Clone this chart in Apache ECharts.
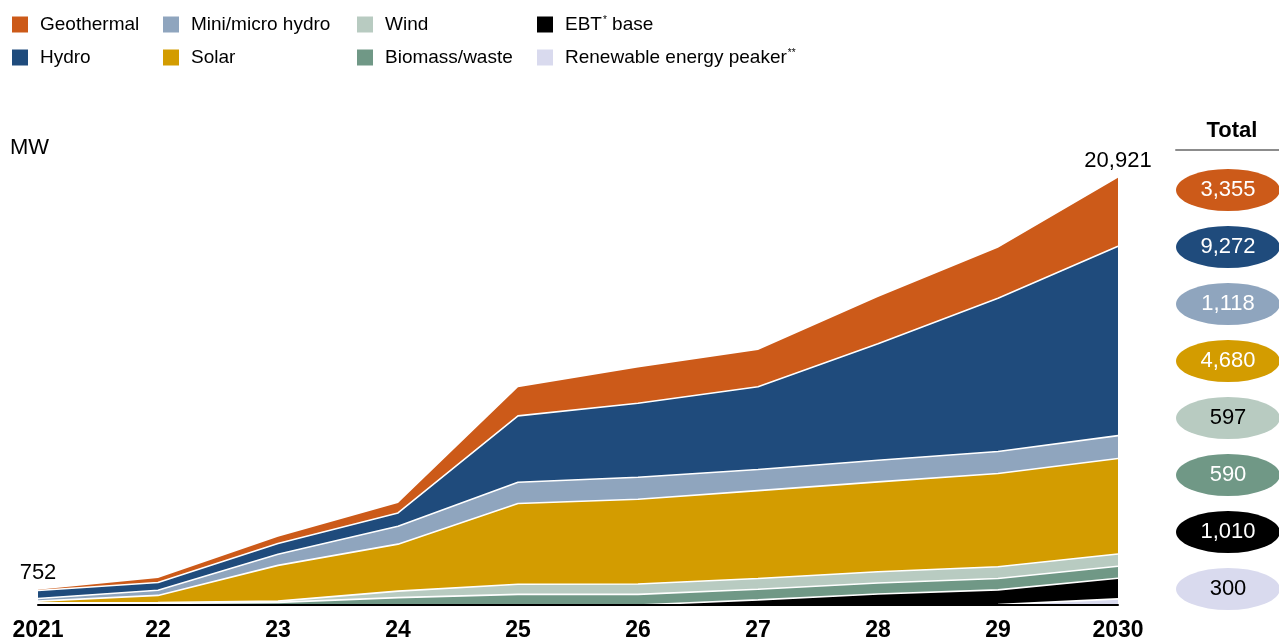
<!DOCTYPE html>
<html>
<head>
<meta charset="utf-8">
<script src="https://cdn.jsdelivr.net/npm/echarts@6/dist/echarts.min.js"></script>
<style>
  html, body { margin: 0; padding: 0; background: #fff; }
  #chart { width: 1279px; height: 639px; }
</style>
</head>
<body>
<div id="chart"></div>
<script>
const years = ['2021', '22', '23', '24', '25', '26', '27', '28', '29', '2030']

// MW per year (2030 = the Total column)
const geothermal = [40, 220, 330, 490, 1400, 1750, 1800, 2290, 2480, 3355]
const hydro = [390, 380, 520, 650, 3250, 3620, 4050, 5710, 7500, 9272]
const miniHydro = [130, 250, 550, 880, 1045, 1080, 1040, 1060, 1080, 1118]
const solar = [80, 350, 1750, 2300, 3950, 4150, 4300, 4400, 4570, 4680]
const wind = [20, 40, 60, 320, 500, 510, 530, 550, 570, 597]
const biomass = [92, 80, 130, 360, 520, 520, 520, 540, 560, 590]
const ebtBase = [0, 0, 0, 0, 0, 0, 250, 540, 720, 1010]
const peaker = [0, 0, 0, 0, 0, 0, 0, 0, 20, 300]

const endTotals = [752, 20921]

const FONT = "'Liberation Sans', Arial, sans-serif"

// bottom of the stack first
const layers = [
  { name: 'Renewable energy peaker', data: peaker, color: '#d9daee', text: '#000' },
  { name: 'EBT base', data: ebtBase, color: '#000000', text: '#fff' },
  { name: 'Biomass/waste', data: biomass, color: '#709886', text: '#fff' },
  { name: 'Wind', data: wind, color: '#b8cbc1', text: '#000' },
  { name: 'Solar', data: solar, color: '#d39c00', text: '#fff' },
  { name: 'Mini/micro hydro', data: miniHydro, color: '#8fa5be', text: '#fff' },
  { name: 'Hydro', data: hydro, color: '#1f4b7c', text: '#fff' },
  { name: 'Geothermal', data: geothermal, color: '#cc5a19', text: '#fff' }
]
const topDown = layers.slice().reverse()

const fmt = v => v.toLocaleString('en-US')

const areaSeries = layers.map((l, i) => {
  const isTop = i === layers.length - 1
  return {
    name: l.name,
    type: 'line',
    stack: 'mw',
    data: l.data,
    z: 20 - i,
    showSymbol: isTop,
    symbol: 'circle',
    symbolSize: 0,
    itemStyle: { color: l.color },
    lineStyle: { color: '#fff', width: isTop ? 0 : 1.6 },
    areaStyle: { color: l.color, opacity: 1 },
    label: isTop ? {
      show: true,
      position: 'top',
      distance: 6,
      fontFamily: FONT,
      fontSize: 22,
      color: '#000',
      formatter: p => p.dataIndex === 0 ? fmt(endTotals[0]) : (p.dataIndex === years.length - 1 ? fmt(endTotals[1]) : '')
    } : { show: false },
    emphasis: { disabled: true }
  }
})

const totalSeries = {
  type: 'scatter',
  xAxisIndex: 1,
  yAxisIndex: 1,
  symbol: 'circle',
  symbolSize: [104, 42],
  silent: true,
  data: topDown.map(l => ({
    value: [0.5, l.name],
    itemStyle: { color: l.color, opacity: 1 },
    label: { color: l.text }
  })),
  label: {
    show: true,
    position: 'inside',
    fontFamily: FONT,
    fontSize: 22,
    formatter: p => fmt(topDown[p.dataIndex].data[years.length - 1])
  }
}

const legendCols = [
  ['Geothermal', 'Hydro'],
  ['Mini/micro hydro', 'Solar'],
  ['Wind', 'Biomass/waste'],
  ['EBT base', 'Renewable energy peaker']
]
const legendLeft = [7, 158, 352, 532]

const legends = legendCols.map((names, i) => ({
  data: names,
  orient: 'vertical',
  left: legendLeft[i],
  top: 10,
  icon: 'rect',
  itemWidth: 16,
  itemHeight: 16,
  itemGap: 14,
  selectedMode: false,
  itemStyle: { borderWidth: 0 },
  lineStyle: { width: 0 },
  formatter: name => {
    if (name === 'EBT base') return '{t|EBT}{sup|*}{b| base}'
    if (name === 'Renewable energy peaker') return '{t|' + name + '}{sup|**}'
    return '{t|' + name + '}'
  },
  textStyle: {
    rich: {
      t: { fontFamily: FONT, fontSize: 19, color: '#000', lineHeight: 19, padding: [0, 0, 0, 7] },
      b: { fontFamily: FONT, fontSize: 19, color: '#000', lineHeight: 19 },
      sup: { fontFamily: FONT, fontSize: 10, color: '#000', verticalAlign: 'top', lineHeight: 19, padding: [0, 0, 6, 1] }
    }
  }
}))

const chart = echarts.init(document.getElementById('chart'))
chart.setOption({
  animation: false,
  title: {
    text: 'MW',
    left: 5,
    top: 132,
    textStyle: { fontFamily: FONT, fontSize: 22, fontWeight: 'normal', color: '#000' }
  },
  legend: legends,
  grid: [
    { left: 38, right: 161, top: 115, bottom: 34, outerBoundsMode: 'none' },
    { left: 1176, width: 104, top: 161.5, height: 456, outerBoundsMode: 'none' }
  ],
  xAxis: [
    {
      type: 'category',
      data: years,
      boundaryGap: false,
      z: 50,
      axisTick: { show: false },
      axisLine: { lineStyle: { color: '#000', width: 2 } },
      axisLabel: { margin: 14, fontFamily: FONT, fontSize: 23, fontWeight: 'bold', color: '#000' }
    },
    {
      gridIndex: 1,
      type: 'value',
      min: 0,
      max: 1,
      position: 'top',
      offset: 12,
      name: 'Total',
      nameLocation: 'middle',
      nameGap: 8,
      nameTextStyle: { fontFamily: FONT, fontSize: 22, fontWeight: 'bold', color: '#000', padding: [0, 0, 0, 8] },
      axisLine: { show: true, lineStyle: { color: '#8c8c8c', width: 2 } },
      axisTick: { show: false },
      axisLabel: { show: false },
      splitLine: { show: false }
    }
  ],
  yAxis: [
    { type: 'value', min: 0, max: 24000, show: false },
    {
      gridIndex: 1,
      type: 'category',
      data: topDown.map(l => l.name),
      inverse: true,
      show: false
    }
  ],
  series: [...areaSeries, totalSeries]
})
</script>
</body>
</html>
